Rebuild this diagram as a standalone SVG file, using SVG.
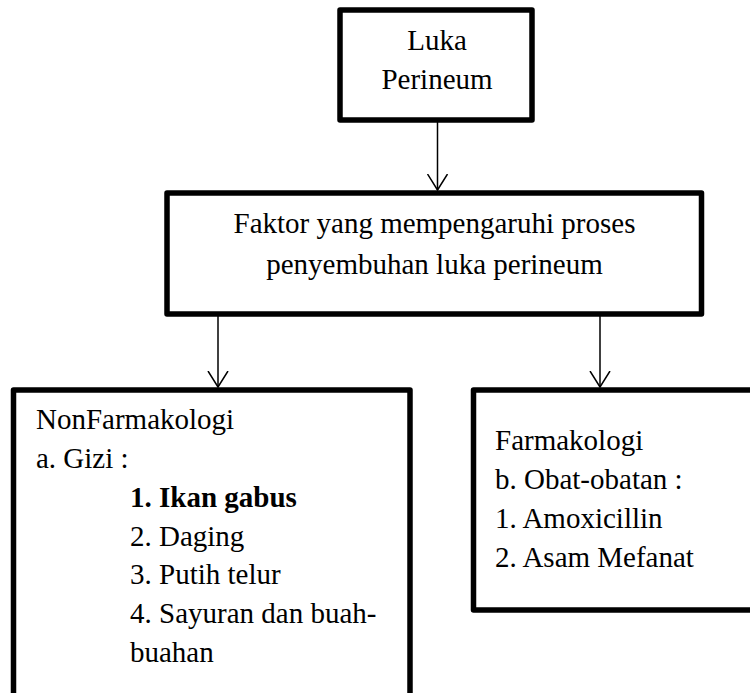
<svg xmlns="http://www.w3.org/2000/svg" width="750" height="693" viewBox="0 0 750 693">
<style>
.box{fill:#fff;stroke:#000;stroke-width:5.5;stroke-linejoin:round}
.t{font-family:"Liberation Serif","Times New Roman",serif;font-size:29px;fill:#000}
.c{text-anchor:middle}
.b{font-weight:bold}
.con{stroke:#000;stroke-width:1.5;fill:none}
</style>
<defs>
<marker id="arr" markerWidth="22" markerHeight="22" viewBox="0 0 22 22" refX="16" refY="11" orient="auto" markerUnits="userSpaceOnUse">
<path d="M0,1 L16,11 L0,21" fill="none" stroke="#000" stroke-width="1.5"/>
</marker>
</defs>
<rect width="750" height="693" fill="#fff"/>
<g id="connectors">
<line class="con" x1="437.5" y1="122" x2="437.5" y2="190" marker-end="url(#arr)"/>
<line class="con" x1="218" y1="316" x2="218" y2="387" marker-end="url(#arr)"/>
<line class="con" x1="600" y1="316" x2="600" y2="387" marker-end="url(#arr)"/>
</g>
<g id="node-luka">
<rect class="box" x="340" y="10" width="192" height="110"/>
<text class="t c" x="437" y="50">Luka</text>
<text class="t c" x="437" y="89">Perineum</text>
</g>
<g id="node-faktor">
<rect class="box" x="167" y="193" width="534.5" height="121"/>
<text class="t c" x="434.5" y="233">Faktor yang mempengaruhi proses</text>
<text class="t c" x="434.5" y="274">penyembuhan luka perineum</text>
</g>
<g id="node-nonfarmakologi">
<rect class="box" x="13.5" y="390" width="396.5" height="330"/>
<text class="t" x="36" y="429">NonFarmakologi</text>
<text class="t" x="36" y="468">a. Gizi :</text>
<text class="t b" x="130" y="507">1. Ikan gabus</text>
<text class="t" x="130" y="546">2. Daging</text>
<text class="t" x="130" y="584">3. Putih telur</text>
<text class="t" x="130" y="623">4. Sayuran dan buah-</text>
<text class="t" x="130" y="662">buahan</text>
</g>
<g id="node-farmakologi">
<rect class="box" x="473.5" y="390" width="300" height="220"/>
<text class="t" x="495" y="450">Farmakologi</text>
<text class="t" x="495" y="489">b. Obat-obatan :</text>
<text class="t" x="495" y="528">1. Amoxicillin</text>
<text class="t" x="495" y="567">2. Asam Mefanat</text>
</g>
</svg>
